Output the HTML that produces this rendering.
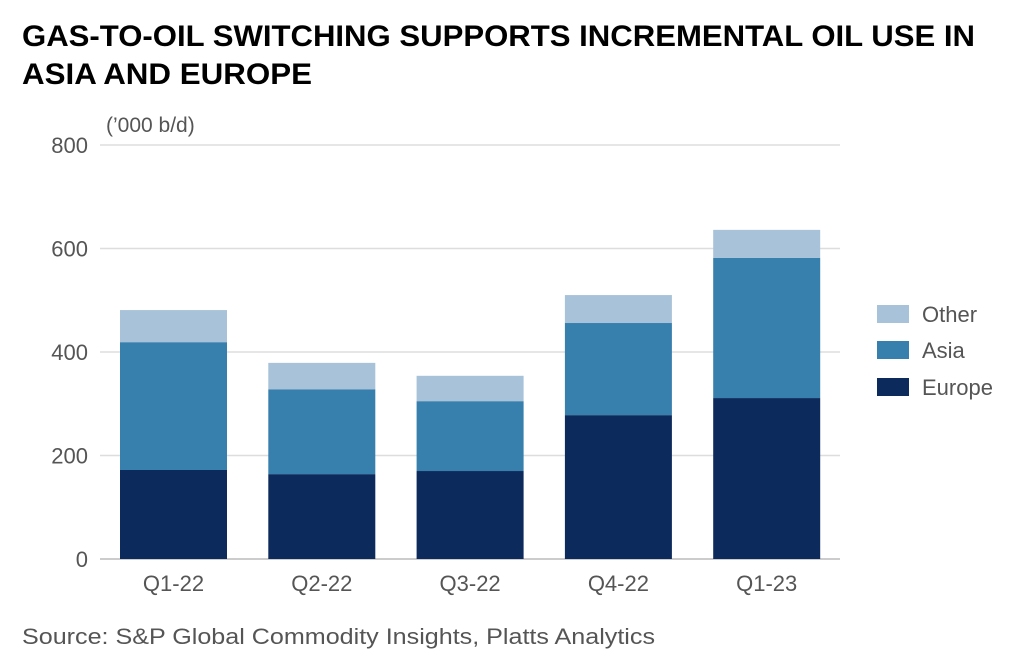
<!DOCTYPE html>
<html><head><meta charset="utf-8"><style>
html,body{margin:0;padding:0;background:#fff;}
svg{display:block;font-family:"Liberation Sans",sans-serif;}
</style></head><body>
<svg width="1034" height="664" viewBox="0 0 1034 664" id="c">
<text x="22" y="46" font-size="30" font-weight="bold" fill="#000" textLength="953" lengthAdjust="spacingAndGlyphs">GAS-TO-OIL SWITCHING SUPPORTS INCREMENTAL OIL USE IN</text>
<text x="22" y="84" font-size="30" font-weight="bold" fill="#000" textLength="290" lengthAdjust="spacingAndGlyphs">ASIA AND EUROPE</text>
<text x="106" y="132" font-size="21" fill="#555">(’000 b/d)</text>
<g id="grid"></g><g id="bars"></g><g id="xl"></g>
<g>
<rect x="877" y="305" width="32" height="18" fill="#a7c2d9"/>
<text x="922" y="322" font-size="22" fill="#555">Other</text>
<rect x="877" y="341" width="32" height="18" fill="#377fad"/>
<text x="922" y="358" font-size="22" fill="#555">Asia</text>
<rect x="877" y="378" width="32" height="18" fill="#0d2a5c"/>
<text x="922" y="395" font-size="22" fill="#555">Europe</text>
</g>
<text x="22" y="644" font-size="22" fill="#555" textLength="633" lengthAdjust="spacingAndGlyphs">Source: S&amp;P Global Commodity Insights, Platts Analytics</text>
</svg>
<script>
const categories=["Q1-22","Q2-22","Q3-22","Q4-22","Q1-23"];
const europe=[172,164,170,278,311];
const asia=[247,164,135,178,271];
const other=[62,51,49,54,54];
const yTicks=[0,200,400,600,800];
const NS="http://www.w3.org/2000/svg";
const y0=559,yTop=145,yMax=800;
const y=v=>y0-(v/yMax)*(y0-yTop);
const x=i=>120+i*148.3;
const bw=107;
function mk(t,a,p){const e=document.createElementNS(NS,t);for(const k in a)e.setAttribute(k,a[k]);p.appendChild(e);return e;}
const grid=document.getElementById('grid');
yTicks.forEach(t=>{
 const l=mk('line',{x1:100,x2:840,y1:y(t),y2:y(t),stroke:t===0?'#bbb':'#ddd','stroke-width':1.5},grid);
 
 
 const tx=mk('text',{x:88,y:y(t)+8,'font-size':22,fill:'#555','text-anchor':'end'},grid);
 tx.textContent=t;
 
 
});
const bars=document.getElementById('bars'),xl=document.getElementById('xl');
const series=[["europe",europe,"#0d2a5c"],["asia",asia,"#377fad"],["other",other,"#a7c2d9"]];
categories.forEach((c,i)=>{
 let base=0;
 series.forEach(([n,arr,col])=>{
  const v=arr[i];
  const r=mk('rect',{x:x(i),y:y(base+v),width:bw,height:y(base)-y(base+v),fill:col},bars);
  
  
  base+=v;
 });
 const t=mk('text',{x:x(i)+bw/2,y:591,'font-size':22,fill:'#555','text-anchor':'middle'},xl);
 t.textContent=c;
 
 
});
</script>
</body></html>
